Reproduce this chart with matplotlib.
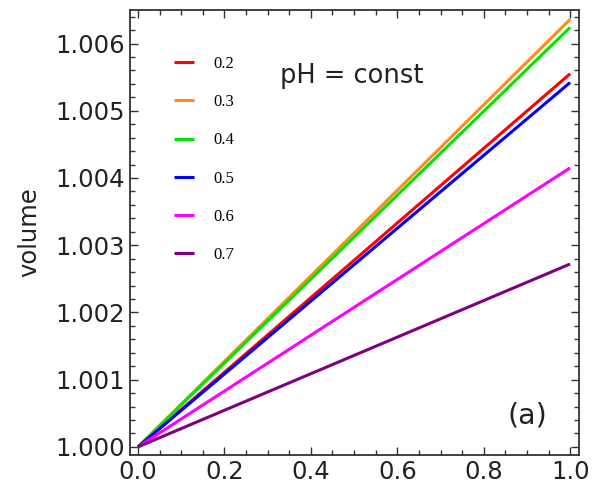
import numpy as np
import matplotlib
matplotlib.use("Agg")
import matplotlib.pyplot as plt
from matplotlib.ticker import MultipleLocator, FormatStrFormatter

# data: volume vs x, straight lines starting at 1.000
x_pts = [0.0, 1.0]
labels = ["0.2", "0.3", "0.4", "0.5", "0.6", "0.7"]
v_start = [1.0, 1.0, 1.0, 1.0, 1.0, 1.0]
v_end = [1.00555, 1.00636, 1.00624, 1.00542, 1.00415, 1.00272]
colors = ["#ff0000", "#ff8c1a", "#00e600", "#0000ff", "#ff00ff", "#800080"]

fig = plt.figure(figsize=(5.93, 4.95), dpi=100)
ax = fig.add_axes([0.219, 0.081, 0.757, 0.899])

for lab, a, b, col in zip(labels, v_start, v_end, colors):
    ax.plot(x_pts, [a, b], color=col, lw=2.2, label=lab, solid_capstyle="butt")

ax.set_xlim(-0.019, 1.02)
ax.set_ylim(0.99988, 1.0065)
ax.xaxis.set_major_locator(MultipleLocator(0.2))
ax.xaxis.set_minor_locator(MultipleLocator(0.05))
ax.yaxis.set_major_locator(MultipleLocator(0.001))
ax.yaxis.set_minor_locator(MultipleLocator(0.0002))
ax.xaxis.set_major_formatter(FormatStrFormatter("%.1f"))
ax.yaxis.set_major_formatter(FormatStrFormatter("%.3f"))
ax.tick_params(which="both", direction="in", top=True, right=True,
               labelsize=17.5, width=1.0, color="#333333", labelcolor="#222222")
ax.tick_params(which="major", length=6)
ax.tick_params(which="minor", length=3.5)
for s in ax.spines.values():
    s.set_linewidth(1.3)
    s.set_color("#333333")

ax.set_ylabel("volume", fontsize=17.5, labelpad=10, color="#222222")

ax.legend(loc="upper left", bbox_to_anchor=(0.065, 0.93), frameon=False,
          prop={"family": "Liberation Serif", "size": 12},
          handlelength=1.2, handletextpad=1.15, labelspacing=1.33)

ax.text(0.328, 1.00552, "pH = const", fontsize=18.5, ha="left", va="center",
        color="#222222")
ax.text(0.854, 1.00047, "(a)", fontsize=20.5, ha="left", va="center",
        color="#222222")

fig.savefig("out.png", dpi=100)
